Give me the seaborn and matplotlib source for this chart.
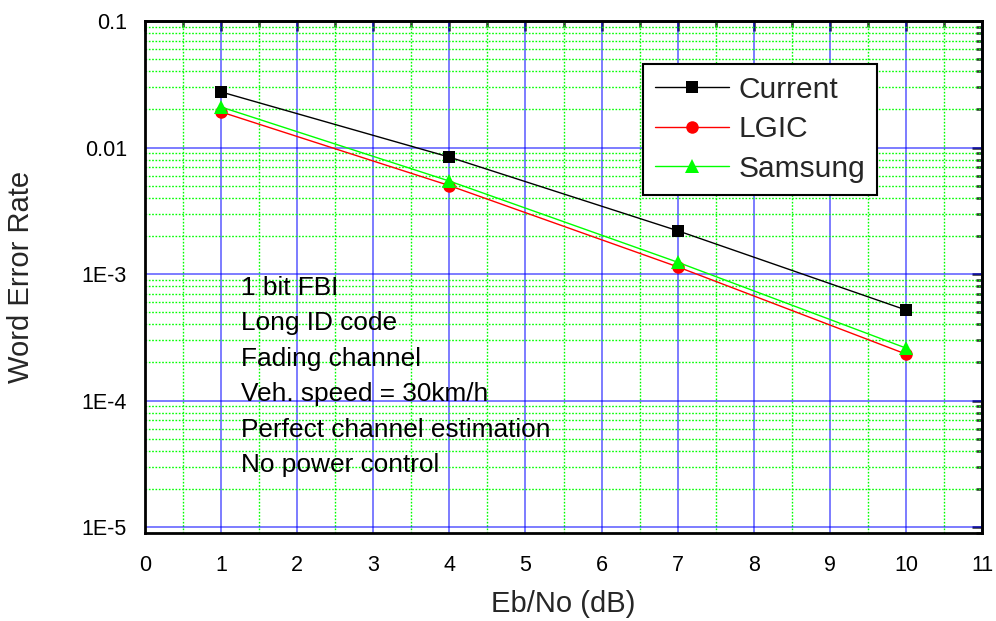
import numpy as np
import pandas as pd
import seaborn as sns
import matplotlib
matplotlib.use("Agg")
import matplotlib.pyplot as plt
from matplotlib.ticker import FixedLocator, FixedFormatter, LogLocator, MultipleLocator, NullFormatter

# data
ebno = [1, 4, 7, 10]
current = [0.0275, 0.0084, 0.0022, 0.00052]
lgic = [0.0191, 0.0050, 0.00114, 0.000233]
samsung = [0.0209, 0.00543, 0.00124, 0.00026]
series_names = ["Current", "LGIC", "Samsung"]
ytick_vals = [1e-5, 1e-4, 1e-3, 1e-2, 1e-1]
ytick_labels = ["1E-5", "1E-4", "1E-3", "0.01", "0.1"]
notes = ["1 bit FBI", "Long ID code", "Fading channel", "Veh. speed = 30km/h",
         "Perfect channel estimation", "No power control"]

df = pd.DataFrame({
    "x": ebno * 3,
    "y": current + lgic + samsung,
    "series": [s for s in series_names for _ in ebno],
})

sns.set_style("white")
plt.rcParams["font.family"] = ["Liberation Sans", "DejaVu Sans"]

W, H = 996, 621
fig = plt.figure(figsize=(W / 100, H / 100), dpi=100)
L, R, T, B = 145, 982, 21, 533
ax = fig.add_axes([L / W, 1 - B / H, (R - L) / W, (B - T) / H])

palette = {"Current": "#000000", "LGIC": "#FF0000", "Samsung": "#00FF00"}
markers = {"Current": "s", "LGIC": "o", "Samsung": "^"}
sizes = {"Current": 9, "LGIC": 9, "Samsung": 10}
for s in series_names:
    sub = df[df["series"] == s]
    sns.lineplot(data=sub, x="x", y="y", ax=ax, color=palette[s], marker=markers[s],
                 markersize=sizes[s], markeredgewidth=0, linewidth=1.0, label=s,
                 zorder=5)

ax.set_yscale("log")
ax.set_xlim(0, 11)
ax.set_ylim(10 ** -5.047, 0.1)

ax.xaxis.set_major_locator(MultipleLocator(1))
ax.xaxis.set_minor_locator(MultipleLocator(0.5))
ax.yaxis.set_major_locator(FixedLocator(ytick_vals))
ax.yaxis.set_major_formatter(FixedFormatter(ytick_labels))
ax.yaxis.set_minor_locator(LogLocator(base=10, subs=np.arange(2, 10)))
ax.yaxis.set_minor_formatter(NullFormatter())

ax.grid(True, which="major", color="#0000FF", alpha=0.6, linewidth=1.2, linestyle="-")
ax.grid(True, which="minor", color="#00FF00", linewidth=1.0, linestyle=(0, (1.2, 1.2)))
ax.set_axisbelow(True)

for sp in ax.spines.values():
    sp.set_linewidth(2.0)
    sp.set_color("black")
    sp.set_visible(True)

ax.tick_params(axis="both", which="major", direction="out", length=7, width=1.8,
               labelsize=15.5, colors="black")
ax.tick_params(axis="both", which="minor", direction="out", length=4, width=1.8)
ax.tick_params(axis="x", which="major", pad=9)
ax.tick_params(axis="y", which="major", pad=6)
ax.tick_params(axis="both", which="both", top=False, right=False)

sec_top = ax.secondary_xaxis("top")
sec_top.xaxis.set_major_locator(MultipleLocator(1))
sec_top.xaxis.set_minor_locator(MultipleLocator(0.5))
sec_top.tick_params(which="major", direction="in", length=7, width=1.8, labeltop=False)
sec_top.tick_params(which="minor", direction="in", length=4, width=1.8)
sec_top.spines["top"].set_linewidth(2.0)
sec_right = ax.secondary_yaxis("right")
sec_right.yaxis.set_major_locator(FixedLocator(ytick_vals))
sec_right.yaxis.set_minor_locator(LogLocator(base=10, subs=np.arange(2, 10)))
sec_right.yaxis.set_minor_formatter(NullFormatter())
sec_right.tick_params(which="major", direction="in", length=7, width=1.8, labelright=False)
sec_right.tick_params(which="minor", direction="in", length=4, width=1.8, labelright=False)
sec_right.spines["right"].set_linewidth(2.0)

ax.set_xlabel("Eb/No (dB)", fontsize=21, labelpad=10)
ax.set_ylabel("Word Error Rate", fontsize=21)
ax.yaxis.set_label_coords((35 - L) / (R - L), 0.5)

# notes
y0 = 295
dy = 35.4
for i, line in enumerate(notes):
    ypix = y0 + i * dy
    ax.text((241 - L) / (R - L), 1 - (ypix - T) / (B - T), line, transform=ax.transAxes,
            fontsize=18.9, ha="left", va="baseline", color="black", zorder=6)

leg = ax.legend(loc="upper right", bbox_to_anchor=((877 - L) / (R - L), 1 - (64 - T) / (B - T)),
                fontsize=21.5, frameon=True, fancybox=False, framealpha=1, edgecolor="black",
                handlelength=2.5, borderpad=0.4, labelspacing=0.38, handletextpad=0.3,
                borderaxespad=0)
leg.get_frame().set_linewidth(1.5)
leg.set_zorder(10)

fig.savefig("out.png", dpi=100)
